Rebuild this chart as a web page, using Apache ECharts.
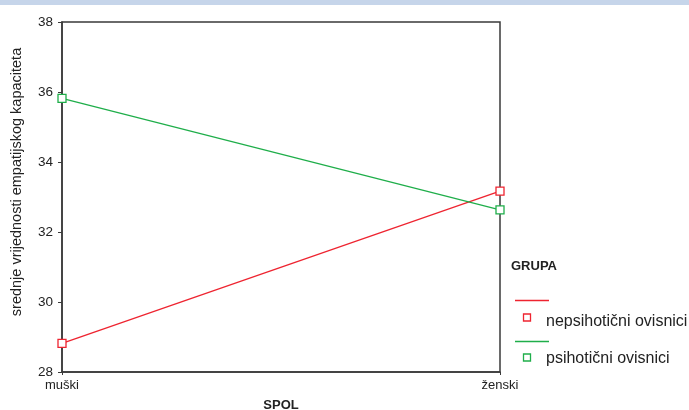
<!DOCTYPE html>
<html><head><meta charset="utf-8">
<script src="https://cdn.jsdelivr.net/npm/echarts@6/dist/echarts.min.js"></script>
<style>html,body{margin:0;padding:0;background:#fff}#c{width:689px;height:410px}</style>
</head><body><div id="c"></div>
<script>
const categories = ['muški', 'ženski'];
const seriesNames = ['nepsihotični ovisnici', 'psihotični ovisnici'];
const nepsihoticni = [28.82, 33.17];
const psihoticni = [35.82, 32.63];
const yTicks = [28, 30, 32, 34, 36, 38];
const legendTitle = 'GRUPA';
const xTitle = 'SPOL';
const yTitle = 'srednje vrijednosti empatijskog kapaciteta';

const red = '#ee2430', green = '#1fae4a';
const font = '"Liberation Sans", Arial, sans-serif';
const chart = echarts.init(document.getElementById('c'), null, {renderer: 'canvas'});
const sym = {symbol: 'rect', symbolSize: 8, showSymbol: true};
chart.setOption({
  animation: false,
  textStyle: {fontFamily: font},
  grid: {left: 62, right: 189, top: 22, bottom: 38, containLabel: false, outerBoundsMode: 'none',
    show: true, borderColor: '#3a3a3a', borderWidth: 1.5, backgroundColor: 'transparent'},
  xAxis: {
    type: 'category', data: categories, boundaryGap: false,
    axisLine: {lineStyle: {color: '#3a3a3a', width: 1.5}},
    axisTick: {show: true, alignWithLabel: true, length: 3, lineStyle: {color: '#3a3a3a'}},
    axisLabel: {color: '#222', fontSize: 13, margin: 7, fontFamily: font},
    name: xTitle, nameLocation: 'middle', nameGap: 27,
    nameTextStyle: {fontWeight: 'bold', fontSize: 13, color: '#222', fontFamily: font}
  },
  yAxis: {
    type: 'value', min: yTicks[0], max: yTicks[yTicks.length - 1], interval: 2,
    axisLine: {show: true, lineStyle: {color: '#3a3a3a', width: 1.5}},
    axisTick: {show: true, length: 4, lineStyle: {color: '#3a3a3a'}},
    splitLine: {show: false},
    axisLabel: {color: '#222', fontSize: 13.5, margin: 9, fontFamily: font}
  },
  series: [
    Object.assign({type: 'line', name: seriesNames[0], data: nepsihoticni,
      lineStyle: {color: red, width: 1.3}, itemStyle: {color: '#fff', borderColor: red, borderWidth: 1.3}}, sym),
    Object.assign({type: 'line', name: seriesNames[1], data: psihoticni,
      lineStyle: {color: green, width: 1.3}, itemStyle: {color: '#fff', borderColor: green, borderWidth: 1.3}}, sym)
  ],
  graphic: [
    {type: 'rect', shape: {x: 0, y: 0, width: 689, height: 5}, style: {fill: '#c6d5ea'}, silent: true},
    {type: 'text', x: 17, y: 182, rotation: Math.PI / 2,
      style: {text: yTitle, font: '14.5px ' + font, fill: '#222', align: 'center', verticalAlign: 'middle'}},
    {type: 'text', left: 511, top: 260, style: {text: legendTitle, font: 'bold 13px ' + font, fill: '#222'}},
    {type: 'line', shape: {x1: 515, y1: 300.5, x2: 549, y2: 300.5}, style: {stroke: red, lineWidth: 1.3}},
    {type: 'rect', shape: {x: 523.5, y: 314, width: 7, height: 7}, style: {fill: '#fff', stroke: red, lineWidth: 1.3}},
    {type: 'text', left: 546, top: 314, style: {text: seriesNames[0], font: '16px ' + font, fill: '#222'}},
    {type: 'line', shape: {x1: 515, y1: 341.5, x2: 549, y2: 341.5}, style: {stroke: green, lineWidth: 1.3}},
    {type: 'rect', shape: {x: 523.5, y: 354, width: 7, height: 7}, style: {fill: '#fff', stroke: green, lineWidth: 1.3}},
    {type: 'text', left: 546, top: 351, style: {text: seriesNames[1], font: '16px ' + font, fill: '#222'}}
  ]
});
</script></body></html>
